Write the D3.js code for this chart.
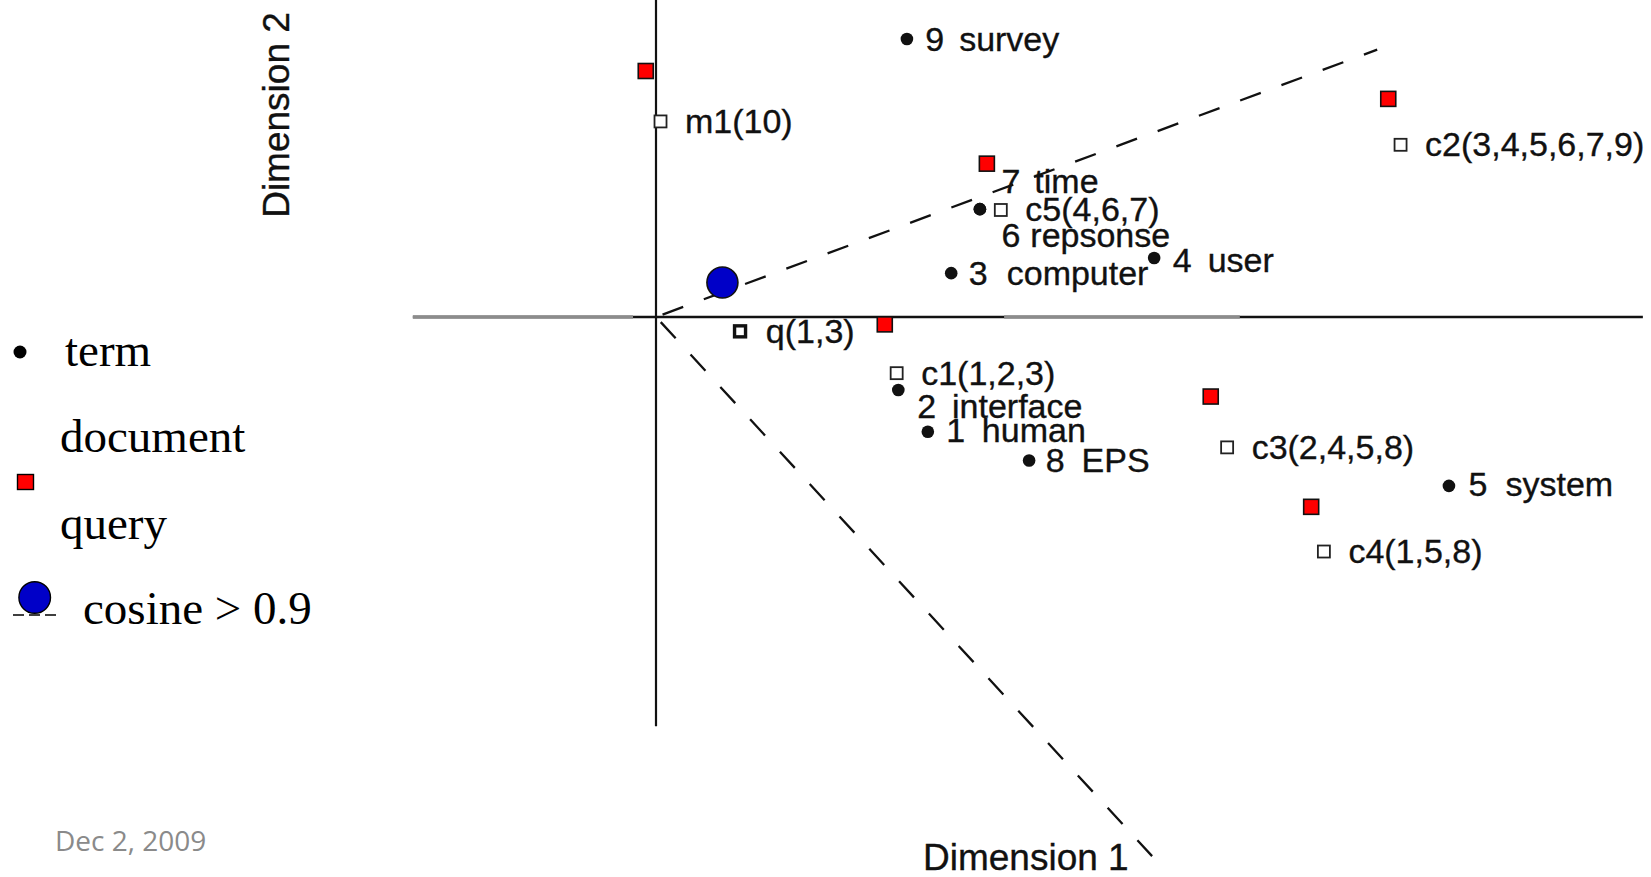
<!DOCTYPE html>
<html>
<head>
<meta charset="utf-8">
<script src="https://cdn.jsdelivr.net/npm/d3@7"></script>
<style>
  body { margin: 0; background: #fff; }
  svg { display: block; }
</style>
</head>
<body>
<div id="chart"></div>
<script>
// LSI plot: terms, documents, query, cosine cone

// terms 1..9
const TERM_IDS = ["1", "2", "3", "4", "5", "6", "7", "8", "9"];
const TERM_WORDS = ["human", "interface", "computer", "user", "system", "repsonse", "time", "EPS", "survey"];
const TERM_DIM1 = [0.663, 0.591, 0.720, 1.215, 1.934, 0.790, 0.790, 0.910, 0.612];
const TERM_DIM2 = [-0.280, -0.178, 0.107, 0.144, -0.412, 0.263, 0.263, -0.350, 0.678];

// documents
const DOC_LABELS = ["c1(1,2,3)", "c2(3,4,5,6,7,9)", "c3(2,4,5,8)", "c4(1,5,8)", "c5(4,6,7)", "m1(10)"];
const DOC_DIM1 = [0.587, 1.816, 1.393, 1.629, 0.841, 0.011];
const DOC_DIM2 = [-0.137, 0.420, -0.318, -0.572, 0.261, 0.477];

// query
const QUERY_LABEL = "q(1,3)";
const QUERY_DIM1 = 0.205;
const QUERY_DIM2 = -0.035;

// red squares
const MARK_DIM1 = [-0.025, 1.786, 0.807, 0.558, 1.353, 1.598];
const MARK_DIM2 = [0.600, 0.532, 0.374, -0.018, -0.194, -0.463];

// blue circle + the two cosine 0.9 rays
const CIRCLE_DIM1 = 0.162;
const CIRCLE_DIM2 = 0.084;
const RAY_DIM1 = [1.759, 1.210];
const RAY_DIM2 = [0.652, -1.315];

// axis extents and the faded (grey) bits of the scanned horizontal axis
const AXIS_X_EXTENT = [-0.593, 2.407];
const AXIS_Y_EXTENT = [-0.998, 0.773];
const AXIS_GREY_PARTS = [[-0.593, -0.056], [0.849, 1.424]];

const AXIS_TITLES = ["Dimension 1", "Dimension 2"];
const LEGEND_LABELS = ["term", "document", "query", "cosine > 0.9"];
const FOOTER = "Dec 2, 2009";

let width = 1651;
let height = 877;

var x = d3.scaleLinear().domain([-0.6, 2.4]).range([410, 1640]);
var y = d3.scaleLinear().domain([-1.3, 0.8]).range([850, -11]);

let svg = d3.select("#chart")
    .append("svg")
    .attr("width", width)
    .attr("height", height)
    .attr("viewBox", [0, 0, width, height])
    .style("background", "#fff");

const sans = "'Liberation Sans', Arial, Helvetica, sans-serif";
const serif = "'Liberation Serif', 'Times New Roman', serif";

// axes
svg.append("line")
    .attr("x1", x(AXIS_X_EXTENT[0])).attr("x2", x(AXIS_X_EXTENT[1]))
    .attr("y1", y(0)).attr("y2", y(0))
    .attr("stroke", "#111").attr("stroke-width", 2.4);
svg.selectAll(".grey-axis")
    .data(AXIS_GREY_PARTS)
    .join("line")
    .attr("class", "grey-axis")
    .attr("x1", d => x(d[0])).attr("x2", d => x(d[1]))
    .attr("y1", y(0)).attr("y2", y(0))
    .attr("stroke", "#8c8c8c").attr("stroke-width", 3.4);
svg.append("line")
    .attr("x1", x(0)).attr("x2", x(0))
    .attr("y1", y(AXIS_Y_EXTENT[1])).attr("y2", y(AXIS_Y_EXTENT[0]))
    .attr("stroke", "#111").attr("stroke-width", 2.2);

// cosine rays
svg.selectAll(".ray")
    .data(d3.range(RAY_DIM1.length))
    .join("line")
    .attr("class", "ray")
    .attr("x1", x(0)).attr("y1", y(0))
    .attr("x2", i => x(RAY_DIM1[i])).attr("y2", i => y(RAY_DIM2[i]))
    .attr("stroke", "#111")
    .attr("stroke-width", 2.3)
    .attr("stroke-dasharray", "22 22")
    .attr("stroke-dashoffset", -7);

// documents (open squares)
const DOC_SIDE = 12;
svg.selectAll(".doc")
    .data(d3.range(DOC_LABELS.length))
    .join("rect")
    .attr("class", "doc")
    .attr("x", i => x(DOC_DIM1[i]) - DOC_SIDE / 2)
    .attr("y", i => y(DOC_DIM2[i]) - DOC_SIDE / 2)
    .attr("width", DOC_SIDE).attr("height", DOC_SIDE)
    .attr("fill", "#fff").attr("stroke", "#222").attr("stroke-width", 1.8);

svg.selectAll(".doc-label")
    .data(d3.range(DOC_LABELS.length))
    .join("text")
    .attr("class", "doc-label")
    .attr("x", i => x(DOC_DIM1[i]) + 24.5)
    .attr("y", i => y(DOC_DIM2[i]) + 11.5)
    .attr("font-family", sans).attr("font-size", 34).attr("fill", "#111")
    .attr("stroke", "#111").attr("stroke-width", 0.35)
    .text(i => DOC_LABELS[i]);

// query square (thick)
svg.append("rect")
    .attr("x", x(QUERY_DIM1) - 5.5).attr("y", y(QUERY_DIM2) - 5.5)
    .attr("width", 11).attr("height", 11)
    .attr("fill", "#fff").attr("stroke", "#111").attr("stroke-width", 3.4);
svg.append("text")
    .attr("x", x(QUERY_DIM1) + 25.8).attr("y", y(QUERY_DIM2) + 11.5)
    .attr("font-family", sans).attr("font-size", 34).attr("fill", "#111")
    .attr("stroke", "#111").attr("stroke-width", 0.35)
    .text(QUERY_LABEL);

// terms (dots) + labels, label offsets are per term because of the overlaps
const termLayout = {
    "1": { dx: 18.3, dy: 10, gap: 16.8 },
    "2": { dx: 19, dy: 28, gap: 15.8 },
    "3": { dx: 17.6, dy: 12, gap: 19 },
    "4": { dx: 18.6, dy: 14, gap: 16 },
    "5": { dx: 19.6, dy: 10, gap: 18 },
    "6": { dx: 21.5, dy: 38, gap: 10 },
    "7": { dx: 21.5, dy: -16, gap: 14 },
    "8": { dx: 16.6, dy: 11, gap: 17 },
    "9": { dx: 18.3, dy: 12, gap: 15 }
};

svg.selectAll(".term")
    .data(d3.range(TERM_IDS.length))
    .join("circle")
    .attr("class", "term")
    .attr("cx", i => x(TERM_DIM1[i]))
    .attr("cy", i => y(TERM_DIM2[i]))
    .attr("r", 6.3)
    .attr("fill", "#111");

let termText = svg.selectAll(".term-label")
    .data(d3.range(TERM_IDS.length))
    .join("text")
    .attr("class", "term-label")
    .attr("x", i => x(TERM_DIM1[i]) + termLayout[TERM_IDS[i]].dx)
    .attr("y", i => y(TERM_DIM2[i]) + termLayout[TERM_IDS[i]].dy)
    .attr("font-family", sans).attr("font-size", 34).attr("fill", "#111")
    .attr("stroke", "#111").attr("stroke-width", 0.35)
    .text(i => TERM_IDS[i]);
termText.append("tspan")
    .attr("dx", i => termLayout[TERM_IDS[i]].gap)
    .text(i => TERM_WORDS[i]);

// red squares
svg.selectAll(".mark")
    .data(d3.range(MARK_DIM1.length))
    .join("rect")
    .attr("class", "mark")
    .attr("x", i => x(MARK_DIM1[i]) - 7.5)
    .attr("y", i => y(MARK_DIM2[i]) - 7.5)
    .attr("width", 15).attr("height", 15)
    .attr("fill", "#ff0000").attr("stroke", "#111").attr("stroke-width", 1.6);

// blue circle
svg.append("circle")
    .attr("cx", x(CIRCLE_DIM1)).attr("cy", y(CIRCLE_DIM2))
    .attr("r", 15.5)
    .attr("fill", "#0000c8").attr("stroke", "#111").attr("stroke-width", 1.6);

// axis titles
svg.append("text")
    .attr("x", 923).attr("y", 870)
    .attr("font-family", sans).attr("font-size", 37).attr("fill", "#111")
    .attr("stroke", "#111").attr("stroke-width", 0.35)
    .text(AXIS_TITLES[0]);
svg.append("text")
    .attr("transform", "translate(289,115) rotate(-90)")
    .attr("text-anchor", "middle")
    .attr("font-family", sans).attr("font-size", 37).attr("fill", "#111")
    .attr("stroke", "#111").attr("stroke-width", 0.35)
    .text(AXIS_TITLES[1]);

// legend
let legend = svg.append("g");
legend.append("circle").attr("cx", 20).attr("cy", 352).attr("r", 6.5).attr("fill", "#000");
legend.append("rect")
    .attr("x", 17.5).attr("y", 474.5).attr("width", 16).attr("height", 15)
    .attr("fill", "#ff0000").attr("stroke", "#000").attr("stroke-width", 1.4);
legend.append("line")
    .attr("x1", 13).attr("x2", 57).attr("y1", 615).attr("y2", 615)
    .attr("stroke", "#000").attr("stroke-width", 1.6)
    .attr("stroke-dasharray", "11 5");
legend.append("circle")
    .attr("cx", 34.7).attr("cy", 597.5).attr("r", 15.8)
    .attr("fill", "#0000c8").attr("stroke", "#000").attr("stroke-width", 1.4);

const legendPos = [[65, 366], [60, 452], [60, 539], [83, 624]];
legend.selectAll(".legend-label")
    .data(LEGEND_LABELS)
    .join("text")
    .attr("class", "legend-label")
    .attr("x", (d, i) => legendPos[i][0])
    .attr("y", (d, i) => legendPos[i][1])
    .attr("font-family", serif).attr("font-size", 47).attr("fill", "#000")
    .text(d => d);

// footer date
svg.append("text")
    .attr("x", 55).attr("y", 851)
    .attr("font-family", "'Open Sans', 'Noto Sans', sans-serif")
    .attr("font-size", 28).attr("fill", "#8a8a8a")
    .text(FOOTER);
</script>
</body>
</html>
